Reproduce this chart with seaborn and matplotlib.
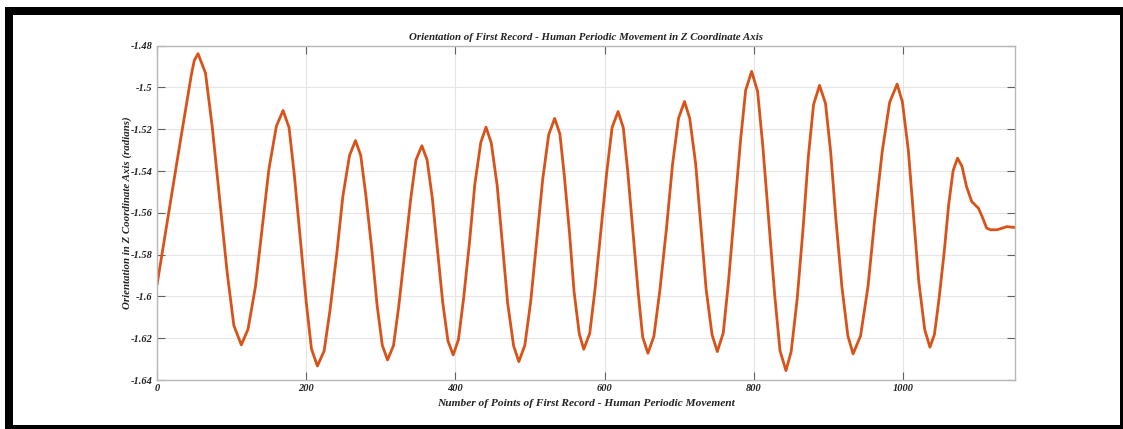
import matplotlib
matplotlib.use("Agg")
import matplotlib.pyplot as plt
import seaborn as sns
from matplotlib.patches import Rectangle

# ---- data ----
x_points = [0, 10, 20, 30, 40, 46, 50, 55,
            65, 74, 84, 94, 103, 113,
            122, 132, 141, 150, 160, 169,
            177, 184, 192, 200, 207, 215,
            224, 232, 241, 249, 258, 266,
            273, 280, 288, 295, 302, 309,
            317, 324, 332, 340, 347, 355,
            362, 369, 376, 383, 390, 397,
            404, 411, 419, 426, 434, 441,
            448, 456, 463, 470, 478, 485,
            493, 501, 509, 517, 525, 533,
            540, 546, 553, 559, 566, 572,
            580, 587, 595, 603, 610, 618,
            625, 631, 638, 645, 651, 658,
            666, 674, 683, 691, 699, 707,
            714, 722, 729, 736, 744, 751,
            759, 766, 774, 782, 789, 797,
            805, 812, 820, 828, 835, 843,
            850, 858, 866, 873, 880, 888,
            896, 903, 910, 918, 926, 933,
            943, 953, 962, 972, 982, 992,
            999, 1007, 1014, 1021, 1029, 1036,
            1042, 1048, 1055, 1061, 1067, 1073,
            1079, 1085, 1092, 1101, 1106, 1112, 1117, 1126, 1139, 1148, 1150]

orientation_z = [-1.5945, -1.5725, -1.5505, -1.5285, -1.5070, -1.4940, -1.4870, -1.4838,
                 -1.4931, -1.5187, -1.5535, -1.5884, -1.6139, -1.6232,
                 -1.6157, -1.5952, -1.5671, -1.5391, -1.5185, -1.5110,
                 -1.5192, -1.5416, -1.5722, -1.6027, -1.6251, -1.6333,
                 -1.6261, -1.6063, -1.5794, -1.5524, -1.5326, -1.5254,
                 -1.5324, -1.5517, -1.5779, -1.6042, -1.6234, -1.6304,
                 -1.6235, -1.6048, -1.5792, -1.5535, -1.5348, -1.5279,
                 -1.5346, -1.5529, -1.5780, -1.6030, -1.6213, -1.6280,
                 -1.6207, -1.6008, -1.5735, -1.5463, -1.5263, -1.5190,
                 -1.5265, -1.5471, -1.5751, -1.6032, -1.6237, -1.6312,
                 -1.6234, -1.6021, -1.5730, -1.5439, -1.5226, -1.5148,
                 -1.5222, -1.5424, -1.5701, -1.5977, -1.6179, -1.6253,
                 -1.6177, -1.5969, -1.5684, -1.5400, -1.5191, -1.5115,
                 -1.5193, -1.5404, -1.5694, -1.5983, -1.6195, -1.6272,
                 -1.6191, -1.5971, -1.5670, -1.5368, -1.5148, -1.5067,
                 -1.5147, -1.5366, -1.5666, -1.5965, -1.6184, -1.6264,
                 -1.6174, -1.5929, -1.5594, -1.5258, -1.5013, -1.4923,
                 -1.5019, -1.5281, -1.5639, -1.5997, -1.6259, -1.6355,
                 -1.6264, -1.6014, -1.5673, -1.5331, -1.5082, -1.4990,
                 -1.5076, -1.5311, -1.5633, -1.5954, -1.6189, -1.6275,
                 -1.6189, -1.5952, -1.5630, -1.5307, -1.5071, -1.4984,
                 -1.5068, -1.5299, -1.5614, -1.5928, -1.6159, -1.6243,
                 -1.6182, -1.6017, -1.5791, -1.5564, -1.5399, -1.5338,
                 -1.5378, -1.5474, -1.5546, -1.5578, -1.5618, -1.5673, -1.5681, -1.5681,
                 -1.5666, -1.5669, -1.5670]

x_ticks = [0, 200, 400, 600, 800, 1000]
x_tick_labels = ["0", "200", "400", "600", "800", "1000"]
y_ticks = [-1.64, -1.62, -1.60, -1.58, -1.56, -1.54, -1.52, -1.50, -1.48]
y_tick_labels = ["-1.64", "-1.62", "-1.6", "-1.58", "-1.56", "-1.54", "-1.52", "-1.5", "-1.48"]

title = "Orientation of First Record - Human Periodic Movement in Z Coordinate Axis"
x_label = "Number of Points of First Record - Human Periodic Movement"
y_label = "Orientation in Z Coordinate Axis (radians)"

# ---- styling ----
sns.set_theme(style="whitegrid")
plt.rcParams['font.family'] = ['Liberation Serif', 'DejaVu Serif']

W, H = 1123, 429
fig = plt.figure(figsize=(W / 100, H / 100), dpi=100)
fig.patch.set_facecolor('white')

# black picture frame
fig.add_artist(Rectangle((5 / W, 0), 1 - 5 / W, 1 - 7 / H, transform=fig.transFigure,
                         facecolor='black', edgecolor='none', zorder=-5))
fig.add_artist(Rectangle((13 / W, 4 / H), (1120 - 13) / W, (425 - 15) / H,
                         transform=fig.transFigure, facecolor='white',
                         edgecolor='none', zorder=-4))

ax = fig.add_axes([157 / W, 1 - 380 / H, (1015 - 157) / W, (380 - 45.7) / H])
ax.set_facecolor('white')

sns.lineplot(x=x_points, y=orientation_z, ax=ax, color='#D95319', linewidth=2.0)

ax.set_xlim(0, 1150)
ax.set_ylim(-1.64, -1.48)
ax.set_xticks(x_ticks)
ax.set_xticklabels(x_tick_labels)
ax.set_yticks(y_ticks)
ax.set_yticklabels(y_tick_labels)

ax.tick_params(axis='both', which='major', direction='in', length=6, width=0.8,
               color='#606060', bottom=True, top=True, left=True, right=True,
               labelsize=7.5, pad=3, labelcolor='#222222')
for lab in ax.get_xticklabels() + ax.get_yticklabels():
    lab.set_fontweight('bold')
    lab.set_fontstyle('italic')

ax.grid(True, color='#e6e6e6', linewidth=0.8)
for s in ax.spines.values():
    s.set_color('#b8b8b8')
    s.set_linewidth(1.0)

ax.set_title(title, fontsize=7.8, fontweight='bold', fontstyle='italic', pad=4, color='#222222')
ax.set_xlabel(x_label, fontsize=8.2, fontweight='bold', fontstyle='italic', labelpad=4, color='#222222')
ax.set_ylabel(y_label, fontsize=7.8, fontweight='bold', fontstyle='italic', labelpad=-1, color='#222222')

fig.savefig('out.png', dpi=100, facecolor='white')
